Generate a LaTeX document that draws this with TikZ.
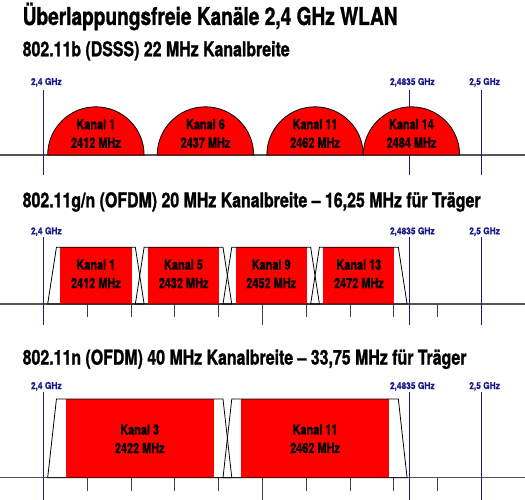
\documentclass[tikz,border=0pt]{standalone}
\usepackage{fontspec}
\setmainfont{TeX Gyre Heros}[FakeStretch=0.78, BoldFeatures={FakeBold=1.2}]
\newfontfamily\ghzfont{TeX Gyre Heros}[FakeStretch=0.88, BoldFeatures={FakeBold=0.6}]
\usepackage{xcolor}
\usepackage{tikz}
\usetikzlibrary{positioning}

\definecolor{funkrot}{RGB}{255,0,0}
\definecolor{grenzblau}{RGB}{25,25,135}
\definecolor{achsgrau}{RGB}{85,85,85}

\begin{document}
\begin{tikzpicture}[
  x=1pt, y=-1pt,
  titel/.style={anchor=base west, inner sep=0pt, font=\bfseries\fontsize{24.5}{26}\selectfont},
  untertitel/.style={anchor=base west, inner sep=0pt, font=\bfseries\fontsize{20.4}{22}\selectfont},
  ghz/.style={anchor=base, inner sep=0pt, xshift=3pt, text=grenzblau, font=\ghzfont\bfseries\fontsize{9.5}{10}\selectfont},
  kanal/.style={align=center, inner sep=0pt, font=\bfseries\fontsize{14}{18.5}\selectfont},
  grenze/.style={draw=grenzblau, line width=1.1pt},
  achse/.style={draw=achsgrau, line width=1.5pt},
  marke/.style={draw=black!75, line width=.9pt},
  huelle/.style={draw=black, line width=.8pt},
  traeger/.style={fill=funkrot},
  halbkreis/.style={draw=black, fill=funkrot, line width=.8pt}
]
\useasboundingbox (0,0) rectangle (525,500);

% Ueberschriften
\node[titel] (titel) at (22.5,25) {Überlappungsfreie Kanäle 2,4 GHz WLAN};
\node[untertitel] (dsss) at (22.5,56.3) {802.11b (DSSS) 22 MHz Kanalbreite};
\node[untertitel] (ofdmB) at (22.5,207.3) {802.11g/n (OFDM) 20 MHz Kanalbreite – 16,25 MHz für Träger};
\node[untertitel] (ofdmC) at (22.5,364.6) {802.11n (OFDM) 40 MHz Kanalbreite – 33,75 MHz für Träger};

% Frequenzachsen
\draw[achse] (0,155) -- (525,155);
\draw[achse] (0,304) -- (525,304);
\draw[achse] (0,477.7) -- (525,477.7);

% x in MHz ab 2400
\begin{scope}[x=4.383pt, xshift=43.3pt]
  % 802.11b
  \foreach \f/\lab [count=\i] in {0/{2,4 GHz}, 83.5/{2,4835 GHz}, 100/{2,5 GHz}} {
    \draw[grenze] (\f,90) -- (\f,175);
    \node[ghz] (ghzA\i) at (\f,85) {\lab};
  }
  \foreach \f/\k/\mhz in {12/1/2412, 37/6/2437, 62/11/2462, 84/14/2484} {
    \draw[halbkreis] (\f-11,155) arc[start angle=180, end angle=0, radius=48.2pt] -- cycle;
    \node[kanal] (kanalA\k) at (\f,133.4) {Kanal \k\\\mhz\ MHz};
  }

  % 802.11g/n, 20 MHz
  \foreach \f/\lab [count=\i] in {0/{2,4 GHz}, 83.5/{2,4835 GHz}, 100/{2,5 GHz}} {
    \draw[grenze] (\f,237) -- (\f,325);
    \node[ghz] (ghzB\i) at (\f,234.3) {\lab};
  }
  \foreach \f in {10,20,30,40,60,70,80,90}
    \draw[marke] (\f,304) -- (\f,316.7);
  \draw[marke] (50,304) -- (50,325);
  \foreach \f/\k/\mhz in {12/1/2412, 32/5/2432, 52/9/2452, 72/13/2472} {
    \fill[traeger] (\f-8.125,247.3) rectangle (\f+8.125,304);
    \draw[huelle] (\f-11,304) -- (\f-9,247.3) -- (\f+9,247.3) -- (\f+11,304) -- cycle;
    \node[kanal] (kanalB\k) at (\f,273.8) {Kanal \k\\\mhz\ MHz};
  }

  % 802.11n, 40 MHz
  \foreach \f/\lab [count=\i] in {0/{2,4 GHz}, 83.5/{2,4835 GHz}, 100/{2,5 GHz}} {
    \draw[grenze] (\f,392) -- (\f,500);
    \node[ghz] (ghzC\i) at (\f,389) {\lab};
  }
  \foreach \f in {10,20,30,40,60,70,80,90}
    \draw[marke] (\f,477.7) -- (\f,490.7);
  \draw[marke] (50,477.7) -- (50,500);
  \foreach \f/\k/\mhz in {22/3/2422, 62/11/2462} {
    \fill[traeger] (\f-16.875,399) rectangle (\f+16.875,477.7);
    \draw[huelle] (\f-21,477.7) -- (\f-19,399) -- (\f+19,399) -- (\f+21,477.7) -- cycle;
    \node[kanal] (kanalC\k) at (\f,438.7) {Kanal \k\\\mhz\ MHz};
  }
\end{scope}
\end{tikzpicture}
\end{document}
